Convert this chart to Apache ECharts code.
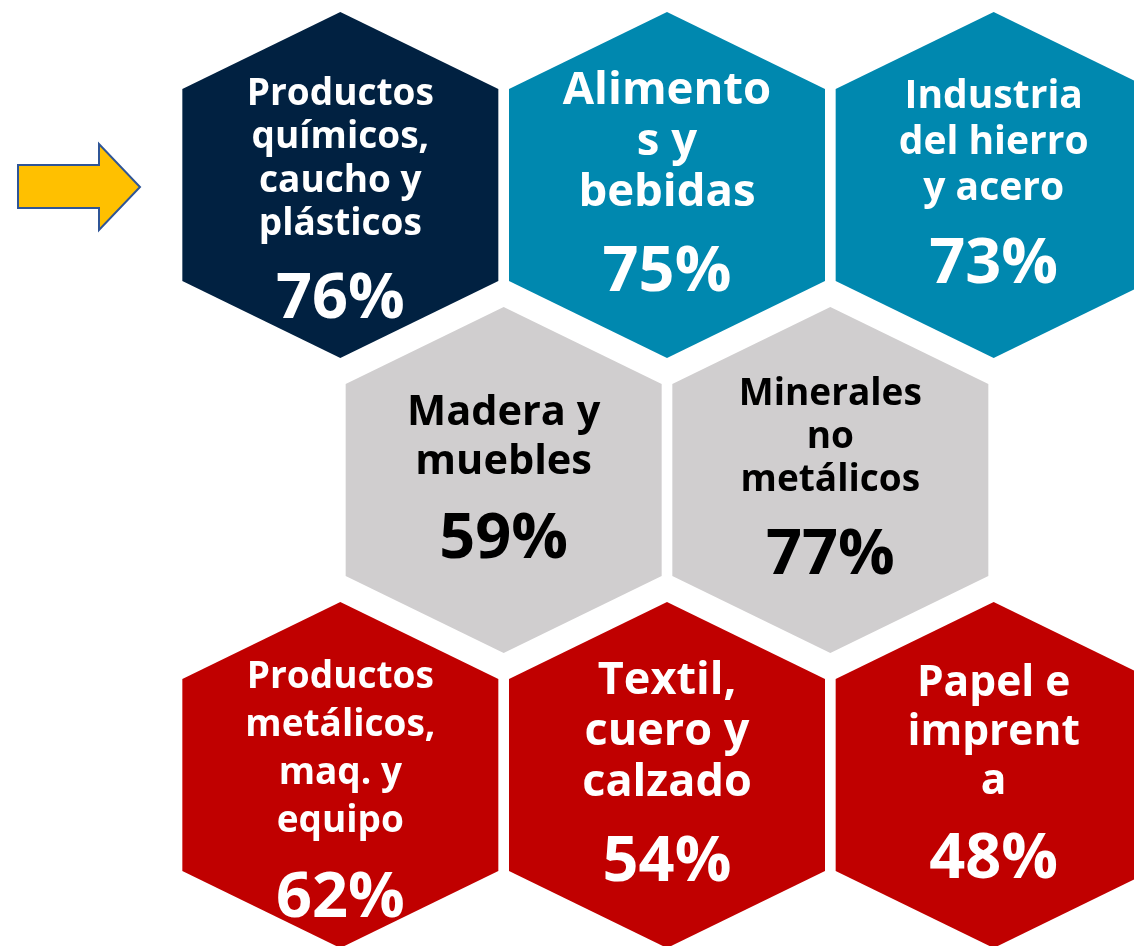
<!DOCTYPE html>
<html>
<head>
<meta charset="utf-8">
<script src="https://cdn.jsdelivr.net/npm/echarts@6/dist/echarts.min.js"></script>
<style>
  html, body { margin: 0; padding: 0; background: #fff; }
  #chart { width: 1134px; height: 946px; }
</style>
</head>
<body>
<div id="chart"></div>
<script>
  // sectores en orden de lectura (fila por fila), con los cortes de línea del original
  const sectors = [
    'Productos\nquímicos,\ncaucho y\nplásticos',
    'Alimento\ns y\nbebidas',
    'Industria\ndel hierro\ny acero',
    'Madera y\nmuebles',
    'Minerales\nno\nmetálicos',
    'Productos\nmetálicos,\nmaq. y\nequipo',
    'Textil,\ncuero y\ncalzado',
    'Papel e\nimprent\na',
  ];
  const shares = [76, 75, 73, 59, 77, 62, 54, 48];
  const groups = ['destacado', 'alto', 'alto', 'medio', 'medio', 'bajo', 'bajo', 'bajo'];
  const rowSizes = [3, 2, 3];

  // estilos
  const groupColors = {
    destacado: '#012141',
    alto: '#0088AF',
    medio: '#D0CECF',
    bajo: '#C00000',
  };
  const groupText = { destacado: '#fff', alto: '#fff', medio: '#000', bajo: '#fff' };
  const labelSizes = [37, 45.5, 39, 41.5, 37, 37, 45, 42.5];
  const lineHeights = [43.5, 51, 46, 49, 43, 48, 51, 49];
  const hexW = 316;
  const hexH = 346;
  const hexSlant = 77;

  // celdas del panal: las filas de 2 van desplazadas media columna
  const cells = [];
  rowSizes.forEach((n, r) => {
    const shift = (3 - n) / 2;
    for (let i = 0; i < n; i++) cells.push([i + shift, r]);
  });
  const seriesData = shares.map((v, i) => [cells[i][0], cells[i][1], v, i]);

  const renderHex = (params, api) => {
    const i = api.value(3);
    const c = api.coord([api.value(0), api.value(1)]);
    const w = hexW / 2;
    const h = hexH / 2;
    const pts = [
      [0, -h], [w, -h + hexSlant], [w, h - hexSlant],
      [0, h], [-w, h - hexSlant], [-w, -h + hexSlant],
    ].map((p) => [c[0] + p[0], c[1] + p[1]]);
    const nLines = sectors[i].split('\n').length;
    const color = groupText[groups[i]];
    return {
      type: 'group',
      children: [
        {
          type: 'polygon',
          shape: { points: pts },
          style: { fill: groupColors[groups[i]] },
        },
        {
          type: 'text',
          x: c[0],
          y: c[1] + 11.5 + (nLines > 3 ? 17 : 0),
          style: {
            text: '{n|' + sectors[i] + '}\n{p|' + api.value(2) + '%}',
            align: 'center',
            verticalAlign: 'middle',
            fill: color,
            fontFamily: 'Open Sans',
            fontWeight: 'bold',
            rich: {
              n: {
                fontSize: labelSizes[i],
                lineHeight: lineHeights[i],
                fontFamily: 'Open Sans',
                fontWeight: 'bold',
                fill: color,
                align: 'center',
              },
              p: {
                fontSize: 63,
                lineHeight: 108,
                fontFamily: 'Open Sans',
                fontWeight: 'bold',
                fill: color,
                align: 'center',
              },
            },
          },
        },
      ],
    };
  };

  const myChart = echarts.init(document.getElementById('chart'));
  myChart.setOption({
    animation: false,
    grid: { left: 177, width: 980, top: 37.5, height: 885, outerBoundsMode: 'none' },
    xAxis: { type: 'value', min: -0.5, max: 2.5, show: false },
    yAxis: { type: 'value', min: -0.5, max: 2.5, inverse: true, show: false },
    graphic: [
      {
        type: 'polygon',
        shape: {
          points: [[18, 165], [99, 165], [99, 144], [140, 187], [99, 230], [99, 208], [18, 208]],
        },
        style: { fill: '#FFC000', stroke: '#2F5597', lineWidth: 2 },
      },
    ],
    series: [
      {
        type: 'custom',
        renderItem: renderHex,
        data: seriesData,
        clip: false,
      },
    ],
  });
</script>
</body>
</html>
